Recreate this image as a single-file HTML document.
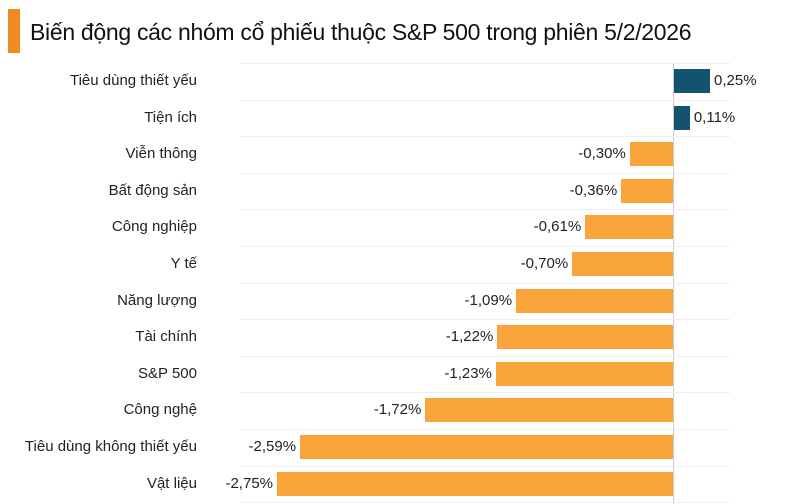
<!DOCTYPE html><html><head><meta charset="utf-8"><style>
body{margin:0;width:787px;height:504px;background:#fff;font-family:"Liberation Sans",sans-serif;overflow:hidden;position:relative}
.t{position:absolute;left:30px;top:19px;font-size:23px;color:#111;letter-spacing:-0.3px}
.ob{position:absolute;left:8px;top:9px;width:12px;height:44px;background:#f28a24}
.l{position:absolute;font-size:15px;color:#222;white-space:nowrap}
.b{position:absolute;height:24px}
.g{position:absolute;left:240px;width:490px;height:1px;background:#eee}
</style></head><body>
<div class="ob"></div><div class="t">Biến động các nhóm cổ phiếu thuộc S&amp;P 500 trong phiên 5/2/2026</div>
<div style="position:absolute;left:673px;top:63px;width:1px;height:441px;background:#ccc"></div>
<div id="c"></div>
<script>
var d=[["Tiêu dùng thiết yếu",0.25],["Tiện ích",0.11],["Viễn thông",-0.30],["Bất động sản",-0.36],["Công nghiệp",-0.61],["Y tế",-0.70],["Năng lượng",-1.09],["Tài chính",-1.22],["S&P 500",-1.23],["Công nghệ",-1.72],["Tiêu dùng không thiết yếu",-2.59],["Vật liệu",-2.75]];
var h="",z=673,s=144;
for(var i=0;i<=12;i++)h+='<div class="g" style="top:'+(63+i*36.6)+'px"></div>';
d.forEach(function(r,i){var c=81+i*36.6,w=Math.abs(r[1])*s,v=r[1].toFixed(2).replace(".",",")+"%";
h+='<div class="l" style="right:590px;top:'+(c-9)+'px">'+r[0].replace("&","&amp;")+'</div>';
if(r[1]>0){h+='<div class="b" style="left:'+(z+1)+'px;width:'+w+'px;top:'+(c-12)+'px;background:#14536f"></div><div class="l" style="left:'+(z+w+5)+'px;top:'+(c-9)+'px">'+v+'</div>';}
else{h+='<div class="b" style="left:'+(z-w)+'px;width:'+w+'px;top:'+(c-12)+'px;background:#f9a53b"></div><div class="l" style="right:'+(787-(z-w)+4)+'px;top:'+(c-9)+'px">'+v+'</div>';}
});
document.getElementById("c").innerHTML=h;
</script></body></html>
